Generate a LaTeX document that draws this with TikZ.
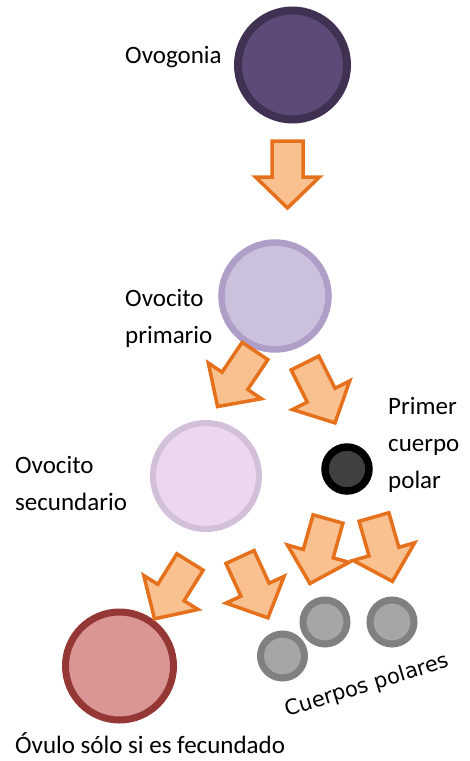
\documentclass[tikz,border=0pt]{standalone}
\usepackage{fontspec}
\setmainfont{Carlito}
\newfontfamily\dejavu{DejaVu Sans}
\definecolor{ovgfill}{HTML}{5E4A79}
\definecolor{ovgline}{HTML}{403153}
\definecolor{primfill}{HTML}{CBC1DD}
\definecolor{primline}{HTML}{AE9EC8}
\definecolor{secfill}{HTML}{EDD6F0}
\definecolor{secline}{HTML}{D2BFD8}
\definecolor{polfill}{HTML}{404040}
\definecolor{greyfill}{HTML}{A6A6A6}
\definecolor{greyline}{HTML}{808080}
\definecolor{ovufill}{HTML}{D99694}
\definecolor{ovuline}{HTML}{953735}
\definecolor{arrfill}{HTML}{F9C090}
\definecolor{arrline}{HTML}{E5711C}
\tikzset{
  cell/.style={circle, inner sep=0pt, minimum size=#1},
  lbl/.style={font=\fontsize{25}{37}\selectfont, inner sep=0pt, align=left, anchor=base west},
  fatarrow/.style={draw=arrline, fill=arrfill, line width=3.5pt, line join=miter},
}
\newcommand\fatarr[3]{%
  \draw[fatarrow, shift={(#1,#2)}, rotate=#3]
    (-15.5,0) -- (15.5,0) -- (15.5,36) -- (32,36) -- (0,67) -- (-32,36) -- (-15.5,36) -- cycle;}
\begin{document}
\begin{tikzpicture}[x=1pt,y=-1pt]
\useasboundingbox (0,0) rectangle (469,761);
% cells
\node[cell=109pt, draw=ovgline, fill=ovgfill, line width=8pt] (ovg) at (292.5,65) {};
\node[cell=107pt, draw=primline, fill=primfill, line width=6.5pt] (prim) at (275,296) {};
\node[cell=106pt, draw=secline, fill=secfill, line width=6pt] (sec) at (206,476) {};
\node[cell=44pt, draw=black, fill=polfill, line width=7.5pt] (pol) at (347,469) {};
\node[cell=44pt, draw=greyline, fill=greyfill, line width=7pt] (g1) at (282.5,656) {};
\node[cell=44pt, draw=greyline, fill=greyfill, line width=7pt] (g2) at (325,622) {};
\node[cell=44pt, draw=greyline, fill=greyfill, line width=7pt] (g3) at (392,622) {};
\node[cell=108pt, draw=ovuline, fill=ovufill, line width=7pt] (ovu) at (119.5,666) {};
% arrows
\fatarr{287.5}{141}{0}
\fatarr{255}{351}{-34}
\fatarr{305}{363}{26.6}
\fatarr{190}{562}{-32}
\fatarr{240}{557}{24.7}
\fatarr{328}{519}{-15.7}
\fatarr{374}{517}{16}
% labels
\node[lbl] (t1) at (125,63) {Ovogonia};
\node[lbl] (t2) at (125,343) {Ovocito\\primario};
\node[lbl] (t3) at (15,510) {Ovocito\\secundario};
\node[lbl] (t4) at (388,488) {Primer\\cuerpo\\polar};
\node[lbl] (t5) at (15,753) {Óvulo sólo si es fecundado};
\node[font=\dejavu\fontsize{21}{25}\selectfont, inner sep=0pt, rotate=17] (t6) at (367,686) {Cuerpos polares};
\end{tikzpicture}
\end{document}
